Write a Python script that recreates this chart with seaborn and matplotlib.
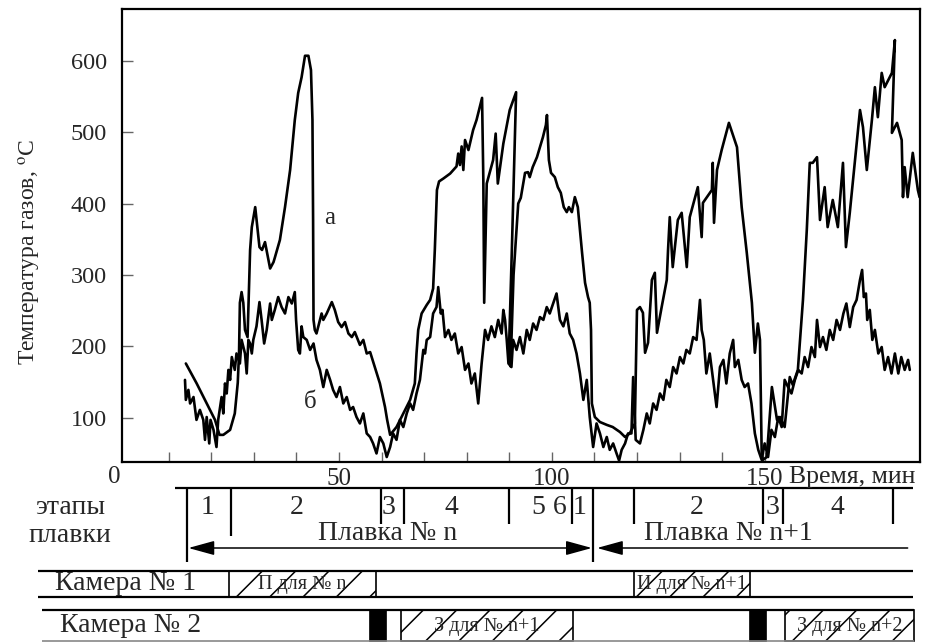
import numpy as np
import pandas as pd
import matplotlib
matplotlib.use("Agg")
import matplotlib.pyplot as plt
import matplotlib.transforms as mtransforms
from matplotlib.patches import Rectangle
import seaborn as sns

# ---------------- data ----------------
# curve "а"
time_a = [14.0, 16.55, 18.9, 20.85, 21.9, 22.8, 24.4, 25.5, 26.2, 26.5, 26.7, 27.1, 27.5, 27.9, 28.5,
          29.1, 29.5, 30.3, 31.0, 31.3, 31.9, 32.6, 33.8, 34.6, 34.9, 36.1, 37.3, 38.5, 39.6, 40.4,
          41.2, 42.0, 42.8, 43.4, 43.75, 43.9, 44.0, 44.3, 44.7, 45.9, 46.3, 47.1, 48.3, 49.0, 49.8,
          50.6, 51.4, 52.2, 53.0, 53.7, 54.9, 55.7, 56.5, 57.3, 58.4, 59.6, 60.8, 61.3, 62.0, 63.5,
          65.1, 66.7, 67.8, 68.2, 68.6, 69.4, 70.6, 71.4, 72.1, 72.5, 73.0, 73.5, 74.5, 76.1, 77.6,
          78.0, 78.4, 78.8, 79.2, 79.6, 80.4, 81.5, 82.3, 83.6, 83.9, 84.1, 84.7, 86.2, 86.8, 87.3,
          88.6, 90.1, 91.6, 90.6, 89.9, 90.3, 91.0, 92.1, 92.7, 93.7, 94.4, 94.8, 95.5, 96.5, 97.2,
          97.9, 98.6, 98.85, 99.3, 99.8, 100.7, 101.4, 102.1, 102.8, 103.5, 104.0, 104.7, 105.4, 106.1,
          106.6, 107.1, 107.8, 108.5, 108.9, 109.2, 109.4, 110.1, 111.3, 112.9, 114.3, 116.0, 117.2,
          118.3, 119.5, 120.0, 120.7, 121.4, 121.9, 122.6, 123.5, 124.2, 124.7, 125.8, 127.0, 127.3,
          127.7, 128.4, 129.6, 130.5, 131.7, 132.4, 134.3, 135.2, 135.5, 137.6, 137.8, 138.1, 138.8,
          139.9, 141.6, 143.5, 144.6, 145.8, 147.0, 147.7, 148.4, 148.9, 149.3, 149.6, 150.5, 151.7,
          152.9, 153.6, 154.7, 155.9, 156.6, 157.8, 159.0, 159.9, 160.6, 161.3, 162.3, 163.0, 164.1,
          164.8, 166.0, 167.2, 168.4, 169.1, 170.0, 172.4, 173.1, 174.0, 175.2, 175.9, 176.6, 177.5,
          178.2, 179.9, 180.6, 179.9, 181.1, 182.2, 182.5, 182.9, 183.6, 184.8, 186.0, 186.4]
temp_a = [176, 148, 120, 97, 76, 76, 83, 106, 149, 191, 261, 276, 261, 223, 213,
          335, 367, 395, 356, 339, 335, 346, 309, 318, 324, 349, 395, 447, 517, 555,
          577, 607, 607, 587, 517, 377, 237, 223, 218, 246, 237, 246, 262, 251, 234,
          227, 234, 218, 213, 220, 202, 209, 190, 192, 171, 148, 115, 97, 76, 87,
          106, 125, 148, 190, 223, 246, 258, 265, 281, 335, 419, 431, 435, 442, 452,
          470, 454, 480, 447, 489, 475, 503, 517, 548, 433, 261, 428, 461, 498, 428,
          484, 531, 556, 335, 190, 172, 300, 400, 408, 443, 444, 437, 451, 465, 479,
          493, 510, 524, 461, 443, 437, 423, 415, 395, 388, 395, 388, 409, 395,
          363, 331, 289, 269, 261, 223, 120, 101, 94, 90, 87, 80, 73,
          78, 92, 251, 255, 247, 191, 205, 293, 303, 219, 255, 293, 335,
          381, 311, 377, 387, 311, 381, 423, 353, 401, 419, 457, 373, 447,
          475, 513, 479, 395, 331, 261, 191, 232, 209, 50, 41, 45, 143,
          97, 101, 87, 157, 146, 167, 265, 363, 457, 457, 465, 377, 423,
          367, 405, 367, 457, 339, 387, 531, 507, 447, 517, 563, 521, 583,
          563, 583, 629, 499, 513, 489, 409, 451, 409, 471, 419, 409]

# curve "б"
time_b = [13.8, 14.0, 14.6, 15.0, 15.8, 16.5, 17.3, 18.1, 18.5, 18.9, 19.5, 19.8, 20.5, 21.2, 21.6,
          22.4, 22.8, 23.2, 23.6, 24.0, 24.4, 24.8, 25.5, 25.9, 26.7, 27.1, 27.9, 28.3, 28.7, 29.1,
          29.5, 29.85, 30.6, 31.3, 31.8, 32.4, 33.0, 33.8, 34.2, 34.9, 35.7, 36.5, 37.3, 38.1, 38.9,
          39.6, 39.9, 40.4, 40.8, 41.2, 41.6, 42.4, 43.2, 44.0, 44.7, 45.5, 46.3, 47.1, 47.9, 48.6,
          49.4, 50.2, 51.0, 51.8, 52.6, 53.3, 54.1, 54.9, 55.7, 56.5, 57.3, 58.0, 58.8, 59.6, 60.4,
          61.2, 62.0, 62.7, 63.5, 64.3, 65.1, 65.9, 66.7, 67.4, 68.2, 69.0, 69.8, 70.2, 70.6, 71.4,
          72.1, 72.9, 73.3, 73.9, 74.3, 74.9, 75.7, 76.4, 77.2, 78.0, 78.8, 79.6, 80.4, 81.1, 81.9,
          82.7, 83.5, 84.3, 85.0, 85.8, 86.6, 87.4, 88.2, 88.6, 89.0, 89.4, 89.8, 90.5, 90.9, 91.7,
          92.5, 93.3, 94.1, 94.8, 95.6, 96.4, 97.2, 98.0, 98.8, 99.5, 100.3, 101.1, 101.9, 102.7, 103.5,
          104.2, 105.0, 105.8, 106.6, 107.4, 108.2, 108.9, 109.7, 110.5, 111.3, 112.1, 112.9, 113.6,
          114.4, 115.2, 115.8, 116.4, 117.2, 117.9, 118.7, 119.1, 119.7, 120.7, 121.5, 122.3, 123.0,
          123.8, 124.6, 125.4, 126.2, 126.9, 127.7, 128.5, 129.3, 130.1, 130.9, 131.6, 132.4, 133.2,
          134.0, 134.8, 135.2, 135.7, 136.3, 137.1, 137.9, 138.7, 139.5, 140.3, 141.0, 141.8, 142.6,
          143.0, 143.8, 144.6, 145.3, 146.1, 146.9, 147.7, 148.5, 149.3, 150.0, 150.8, 151.6, 152.4,
          153.2, 154.0, 154.7, 155.5, 156.3, 157.1, 157.9, 158.7, 159.4, 160.2, 161.0, 161.8, 162.3,
          163.0, 163.7, 164.5, 165.3, 166.1, 166.9, 167.7, 168.5, 169.2, 170.0, 170.8, 171.6, 172.4,
          172.9, 173.3, 173.8, 174.1, 174.7, 175.3, 175.9, 176.7, 177.5, 178.2, 179.0, 179.8, 180.6,
          181.4, 182.1, 182.9, 183.7, 184.1]
temp_b = [153, 125, 139, 120, 129, 97, 111, 97, 69, 101, 64, 97, 83, 59, 97,
          129, 106, 148, 134, 167, 153, 185, 167, 190, 176, 209, 190, 162, 209, 204,
          190, 209, 228, 262, 237, 204, 223, 260, 237, 251, 269, 255, 246, 269, 260,
          276, 237, 195, 190, 228, 213, 209, 195, 204, 181, 167, 143, 167, 153, 139,
          129, 143, 120, 129, 111, 115, 101, 92, 106, 78, 73, 64, 50, 73, 64,
          45, 59, 78, 69, 97, 87, 106, 120, 111, 134, 153, 195, 190, 209, 213,
          246, 255, 283, 246, 251, 213, 223, 209, 218, 190, 199, 167, 176, 148, 162,
          120, 176, 223, 209, 228, 213, 237, 218, 251, 237, 209, 176, 171, 209, 195,
          213, 190, 223, 209, 232, 223, 241, 237, 255, 246, 260, 274, 237, 228, 246,
          218, 209, 190, 162, 125, 153, 101, 59, 92, 78, 59, 73, 55,
          64, 50, 40, 55, 64, 78, 78, 157, 69, 64, 83, 106, 92,
          120, 111, 134, 125, 153, 143, 171, 162, 185, 176, 195, 190, 213,
          209, 265, 223, 209, 162, 190, 153, 115, 171, 181, 148, 190, 209,
          171, 181, 153, 143, 148, 120, 78, 55, 41, 64, 45, 83, 73,
          101, 87, 153, 143, 134, 153, 167, 162, 185, 171, 199, 185, 237,
          199, 213, 195, 223, 209, 237, 223, 246, 260, 227, 255, 265, 293,
          307, 269, 274, 237, 251, 209, 223, 190, 199, 167, 185, 162, 190,
          162, 185, 167, 181, 167]

curve_labels = ["а", "б"]
curve_label_t = [47.9, 43.2]
curve_label_T = [380, 122]

y_ticks = [100, 200, 300, 400, 500, 600]
x_label_ticks = [0, 50, 100, 150]
x_minor_ticks = [10, 20, 30, 40, 50, 60, 70, 80, 90, 100, 110, 120, 130, 140, 150]

# stages of melting (minutes)
stage_long_lines = [14.3, 109.6]
stage_short_lines = [24.6, 59.8, 65.2, 89.9, 104.7, 119.3, 149.6, 154.3, 180.1]
stage_labels = ["1", "2", "3", "4", "5 6", "1", "2", "3", "4"]
stage_label_t = [19.2, 40.1, 61.7, 76.3, 99.5, 106.6, 134.1, 151.9, 167.2]
melt_labels = ["Плавка № n", "Плавка № n+1"]
melt_label_t = [61.5, 141.4]

# chambers
cam1_box_start = [24.1, 119.3]
cam1_box_end = [58.7, 146.5]
cam1_box_labels = ["П для № n", "И для № n+1"]
cam2_black_start = [57.0, 146.3]
cam2_black_end = [61.0, 150.3]
cam2_box_start = [64.5, 154.7]
cam2_box_end = [105.0, 185.2]
cam2_box_labels = ["З для № n+1", "З для № n+2"]

# ---------------- figure ----------------
sns.set_theme(style="white")
plt.rcParams["font.family"] = ["Liberation Serif", "DejaVu Serif"]
plt.rcParams["mathtext.fontset"] = "stix"
plt.rcParams["hatch.linewidth"] = 1.1
plt.rcParams["hatch.color"] = "black"

W, H = 927, 642
BIG = 20
fig = plt.figure(figsize=(W / 100, H / 100), dpi=100)
fig.patch.set_facecolor("white")
ax = fig.add_axes([122 / W, 1 - 462 / H, (920 - 122) / W, (462 - 9) / H])
ax.set_facecolor("white")

df_a = pd.DataFrame({"t": time_a, "T": temp_a})
df_b = pd.DataFrame({"t": time_b, "T": temp_b})
sns.lineplot(data=df_a, x="t", y="T", sort=False, estimator=None, color="black",
             lw=1.9, ax=ax)
sns.lineplot(data=df_b, x="t", y="T", sort=False, estimator=None, color="black",
             lw=1.9, ax=ax)

for lab, tx, ty in zip(curve_labels, curve_label_t, curve_label_T):
    ax.text(tx, ty, lab, fontsize=18, ha="center", va="center")

ax.set_xlim(-1, 186.5)
ax.set_ylim(38, 672.5)
ax.set_xlabel("")
ax.set_ylabel("")

for s in ax.spines.values():
    s.set_visible(True)
    s.set_color("black")
    s.set_linewidth(1.6)

ax.set_yticks(y_ticks)
ax.set_yticklabels([str(v) for v in y_ticks])
ax.tick_params(axis="y", direction="in", length=8, width=1, color="#666666",
               pad=11, labelsize=17.5, left=True)

ax.set_xticks(x_label_ticks)
ax.set_xticklabels(["" if v == 0 else str(v) for v in x_label_ticks])
ax.set_xticks(x_minor_ticks, minor=True)
ax.xaxis.remove_overlapping_locs = False
ax.tick_params(axis="x", which="major", length=0, pad=4, labelsize=18, bottom=True)
ax.tick_params(axis="x", which="minor", direction="in", length=7, width=1,
               color="#666666", bottom=True)
# the "0" label sits a little left of the axis corner in the original
fig.text(114 / W, 1 - 477 / H, str(x_label_ticks[0]), fontsize=18, ha="center", va="center")

fig.text(30 / W, 1 - 252 / H, r"Температура газов, $^{\rm o}$C", rotation=90,
         fontsize=17, ha="center", va="center")
fig.text(789 / W, 1 - 477 / H, "Время, мин", fontsize=18.5, ha="left", va="center")

# ---------------- stages table ----------------
tr = mtransforms.blended_transform_factory(ax.transData, fig.transFigure)


def fy(py):
    return 1 - py / H


def hline(x0, x1, py, lw=1.6, color="black"):
    ax.plot([x0, x1], [fy(py), fy(py)], transform=tr, clip_on=False, color=color, lw=lw,
            solid_capstyle="butt")


def vline(x, py0, py1, lw=1.6):
    ax.plot([x, x], [fy(py0), fy(py1)], transform=tr, clip_on=False, color="black", lw=lw,
            solid_capstyle="butt")


hline(11.45, 184.8, 488)
for x in stage_long_lines:
    vline(x, 488, 562)
for i, x in enumerate(stage_short_lines):
    vline(x, 488, 536 if i == 0 else 524)
for lab, tx in zip(stage_labels, stage_label_t):
    ax.text(tx, fy(508), lab, transform=tr, fontsize=BIG, ha="center", va="center")
for lab, tx in zip(melt_labels, melt_label_t):
    ax.text(tx, fy(534), lab, transform=tr, fontsize=BIG, ha="center", va="center")

fig.text(70 / W, fy(507), "этапы", fontsize=BIG, ha="center", va="center")
fig.text(70 / W, fy(535), "плавки", fontsize=BIG, ha="center", va="center")

ax.annotate("", xy=(stage_long_lines[0] + 0.3, fy(548)), xycoords=tr,
            xytext=(stage_long_lines[1] - 0.2, fy(548)), textcoords=tr,
            arrowprops=dict(arrowstyle="<|-|>,head_length=0.8,head_width=0.22",
                            color="black", lw=1.1, shrinkA=0, shrinkB=0,
                            mutation_scale=20))
ax.annotate("", xy=(stage_long_lines[1] + 1.0, fy(548)), xycoords=tr,
            xytext=(183.6, fy(548)), textcoords=tr,
            arrowprops=dict(arrowstyle="-|>,head_length=0.8,head_width=0.22",
                            color="black", lw=1.1, shrinkA=0, shrinkB=0,
                            mutation_scale=20))

# ---------------- chambers ----------------
hline(-20.7, 184.8, 571)
hline(-20.7, 184.8, 597)
fig.text(55 / W, fy(584), "Камера № 1", fontsize=BIG, ha="left", va="center")
for x0, x1, lab in zip(cam1_box_start, cam1_box_end, cam1_box_labels):
    r = Rectangle((x0, fy(597)), x1 - x0, fy(571) - fy(597), transform=tr, clip_on=False,
                  facecolor="white", edgecolor="black", lw=1.2, hatch="/")
    ax.add_patch(r)
    ax.text((x0 + x1) / 2, fy(585), lab, transform=tr, fontsize=14.5, ha="center",
            va="center")

hline(-19.8, 185.2, 610)
hline(-19.8, 185.2, 641, lw=1.2, color="#888888")
fig.text(60 / W, fy(626), "Камера № 2", fontsize=BIG, ha="left", va="center")
for x0, x1 in zip(cam2_black_start, cam2_black_end):
    r = Rectangle((x0, fy(641)), x1 - x0, fy(610) - fy(641), transform=tr, clip_on=False,
                  facecolor="black", edgecolor="black", lw=0.5)
    ax.add_patch(r)
for x0, x1, lab in zip(cam2_box_start, cam2_box_end, cam2_box_labels):
    r = Rectangle((x0, fy(641)), x1 - x0, fy(610) - fy(641), transform=tr, clip_on=False,
                  facecolor="white", edgecolor="black", lw=1.2, hatch="/")
    ax.add_patch(r)
    ax.text((x0 + x1) / 2, fy(626), lab, transform=tr, fontsize=14.5, ha="center",
            va="center")

fig.savefig("out.png", dpi=100, facecolor="white")
